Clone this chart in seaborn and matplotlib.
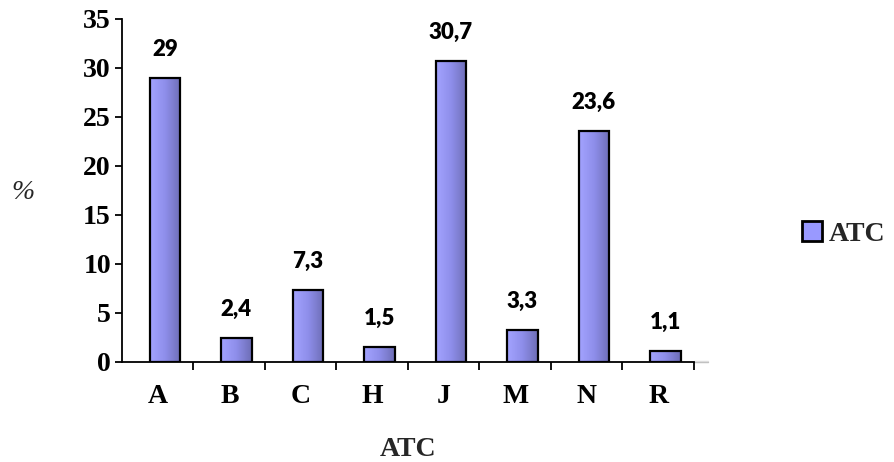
import numpy as np
import pandas as pd
import matplotlib
matplotlib.use("Agg")
import matplotlib.pyplot as plt
import matplotlib.transforms as mtransforms
from matplotlib.colors import LinearSegmentedColormap
from matplotlib.patches import Patch
import seaborn as sns

# ATC groups and their share (%)
categories = ["A", "B", "C", "H", "J", "M", "N", "R"]
values = [29, 2.4, 7.3, 1.5, 30.7, 3.3, 23.6, 1.1]
y_ticks = [0, 5, 10, 15, 20, 25, 30, 35]
series_name = "ATC"

df = pd.DataFrame({"ATC": categories, "pct": values})

sns.set_theme(style="white")
serif = ["Liberation Serif", "DejaVu Serif"]
sans = ["Lato", "DejaVu Sans"]
plt.rcParams["font.family"] = serif

fig = plt.figure(figsize=(8.95, 4.62), dpi=100)
ax = fig.add_axes([0.1363, 0.2165, 0.7754 - 0.1363, 0.9589 - 0.2165])

sns.barplot(data=df, x="ATC", y="pct", color="#9999FF", width=0.43,
            edgecolor="black", linewidth=1.6, ax=ax, zorder=2)

# horizontal light-to-dark shading inside each bar
shade = LinearSegmentedColormap.from_list(
    "shade", ["#A3A3FF", "#8E8EEA", "#6E6EB6"])
grad = np.linspace(0, 1, 64).reshape(1, -1)
for p in ax.patches:
    x0, y0 = p.get_x(), p.get_y()
    w, h = p.get_width(), p.get_height()
    im = ax.imshow(grad, extent=[x0, x0 + w, y0, y0 + h], aspect="auto",
                   cmap=shade, zorder=1.5, interpolation="bilinear")
    im.set_clip_path(p)
    p.set_facecolor("none")

ax.set_xlim(-0.6, 7.4)
ax.set_ylim(0, 35)

# value labels with decimal comma
for i, v in enumerate(values):
    txt = f"{v:g}".replace(".", ",")
    ax.annotate(txt, (i, v), xytext=(0, 16), textcoords="offset points",
                ha="center", va="baseline", fontsize=16, fontweight="heavy",
                family=sans, color="black")

# axes styling
for s in ["top", "right"]:
    ax.spines[s].set_visible(False)
for s in ["left", "bottom"]:
    ax.spines[s].set_color("black")
    ax.spines[s].set_linewidth(1.3)

ax.set_yticks(y_ticks)
ax.set_yticklabels([str(t) for t in y_ticks], fontsize=20, fontweight="bold")
ax.tick_params(axis="y", length=5, width=1.3, direction="out", left=True,
               pad=3, colors="black")

ax.set_xticks(range(len(categories)))
ax.set_xticklabels(categories, fontsize=20, fontweight="bold")
ax.tick_params(axis="x", which="major", length=0, pad=16, colors="black")
shift = mtransforms.ScaledTranslation(-7 / 100, 0, fig.dpi_scale_trans)
for lbl in ax.get_xticklabels():
    lbl.set_transform(lbl.get_transform() + shift)
ax.set_xticks([i + 0.4 for i in range(len(categories))], minor=True)
ax.tick_params(axis="x", which="minor", length=6, width=1.3,
               direction="out", bottom=True, color="black")

# faint floor stub beyond the last category
ax.plot([7.4, 7.6], [0, 0], color="#BBBBBB", lw=1, clip_on=False, zorder=0)
ax.plot([7.4, 7.6], [0.15, 0.15], color="#DDDDDD", lw=1, clip_on=False, zorder=0)

ax.set_xlabel("ATC", fontsize=20, fontweight="bold", labelpad=20)
ax.set_ylabel("")
fig.text(0.013, 0.584, "%", fontsize=20, style="italic", ha="left",
         va="center", family=serif)

leg = ax.legend(handles=[Patch(facecolor="#9999FF", edgecolor="black",
                               linewidth=2, label=series_name)],
                loc="center left", bbox_to_anchor=(1.189, 0.373),
                frameon=False, prop={"family": serif, "weight": "bold",
                                     "size": 20},
                handlelength=0.7, handleheight=0.7, handletextpad=0.25,
                borderpad=0, borderaxespad=0)

fig.savefig("out.png", dpi=100, facecolor="white")
